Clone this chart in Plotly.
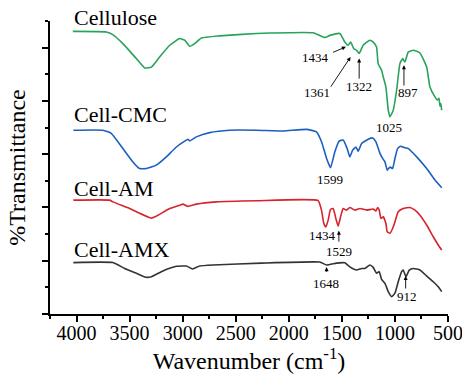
import plotly.graph_objects as go

# ---- data (wavenumber cm^-1, offset %Transmittance) ----
cellulose_wn = [4035, 3720, 3658, 3563, 3437, 3358, 3295, 3217, 3122, 3028, 2981, 2934, 2887, 2824,
                2651, 2305, 2179, 1771, 1660, 1613, 1519, 1472, 1441, 1418, 1387, 1361, 1337, 1299,
                1236, 1205, 1173, 1158, 1126, 1110, 1085, 1063, 1047, 1016, 984, 953, 927, 906, 874,
                827, 764, 701, 670, 623, 600, 585, 575, 567, 560]
cellulose_t = [106.1, 105.9, 104.9, 101.5, 95.9, 92.4, 92.7, 96.5, 100.9, 103.4, 102.8, 100.5, 101.5, 103.6,
               104.4, 105.3, 105.5, 105.6, 103.8, 104.6, 105.3, 102.1, 100.9, 102.1, 99.6, 99.0, 97.8, 100.9,
               102.8, 102.1, 100.2, 94.0, 91.5, 89.0, 85.2, 76.5, 74.0, 76.5, 84.0, 94.0, 95.9, 94.6, 98.4,
               99.0, 98.0, 92.7, 85.2, 81.5, 80.3, 81.0, 78.0, 79.0, 76.5]

cmc_wn = [4030, 3752, 3673, 3563, 3469, 3406, 3342, 3248, 3154, 3059, 2981, 2950, 2934, 2871, 2745,
          2557, 2305, 2054, 1833, 1739, 1691, 1644, 1607, 1566, 1526, 1488, 1450, 1425, 1399, 1368,
          1346, 1314, 1252, 1210, 1179, 1141, 1116, 1094, 1073, 1047, 1022, 1000, 975, 946, 915, 874,
          795, 701, 623, 559]
cmc_t = [69.0, 69.0, 67.8, 62.1, 57.1, 54.6, 54.6, 55.9, 59.0, 62.7, 64.9, 65.6, 65.0, 66.5, 68.1,
         69.0, 69.0, 68.7, 69.3, 68.4, 64.6, 58.4, 54.9, 60.9, 64.9, 65.3, 62.1, 59.0, 61.5, 62.7,
         61.1, 64.0, 65.6, 66.1, 64.6, 60.3, 58.4, 57.1, 54.0, 55.2, 54.6, 58.4, 62.1, 63.0, 62.5, 62.1,
         59.0, 54.6, 50.3, 47.4]

am_wn = [4030, 3689, 3658, 3500, 3295, 3248, 3122, 3028, 2997, 2950, 2871, 2682, 2305, 1724,
         1692, 1670, 1651, 1629, 1607, 1582, 1557, 1535, 1512, 1488, 1456, 1425, 1377, 1330, 1267,
         1205, 1179, 1163, 1148, 1132, 1110, 1085, 1073, 1047, 1022, 1000, 969, 922, 858, 811, 764,
         701, 639, 592, 559]
am_t = [42.75, 42.75, 42.1, 39.6, 36.0, 36.75, 39.6, 40.8, 41.25, 40.4, 41.25, 42.1, 42.5, 42.6,
        39.0, 34.0, 32.7, 35.25, 39.3, 39.6, 35.9, 33.0, 36.5, 39.6, 39.0, 40.0, 39.0, 39.6, 39.0,
        39.4, 38.7, 40.0, 39.0, 35.9, 36.5, 34.0, 30.9, 30.3, 32.1, 34.6, 38.4, 39.6, 40.0, 39.0, 37.1,
        33.4, 29.0, 25.9, 24.0]

amx_wn = [4030, 3658, 3547, 3437, 3349, 3295, 3201, 3059, 2965, 2908, 2840, 2714, 2258, 1708,
          1644, 1550, 1472, 1425, 1361, 1314, 1283, 1236, 1205, 1173, 1148, 1126, 1094, 1063, 1031,
          1000, 969, 937, 922, 896, 865, 827, 764, 701, 639, 592, 559]
amx_t = [19.3, 19.3, 17.1, 15.3, 13.8, 14.0, 15.9, 17.9, 18.0, 16.9, 18.0, 18.4, 19.1, 19.5,
         18.4, 19.1, 19.2, 17.7, 16.5, 17.1, 17.1, 18.4, 17.5, 15.3, 15.9, 13.0, 11.5, 8.4, 6.5,
         7.8, 12.1, 15.9, 16.5, 14.0, 16.5, 17.1, 16.5, 14.25, 12.1, 10.2, 8.4]

series_names = ["Cellulose", "Cell-CMC", "Cell-AM", "Cell-AMX"]
series_colors = ["#27a35a", "#1c5fc0", "#d8232c", "#333333"]
series_label_y = [111.3, 74.8, 47.0, 24.4]
Y_MAX = 110

# peak labels: text, x, y
peak_text = ["1434", "1361", "1322", "897", "1025", "1599", "1434", "1529", "1648", "912"]
peak_x = [1750, 1731, 1340, 877, 1057, 1608, 1679, 1528, 1651, 882]
peak_y = [96.2, 83.1, 85.5, 83.1, 69.9, 50.6, 29.6, 23.4, 11.4, 6.4]

# arrows: head (x,y) and tail (x,y)
arrow_head_x = [1462, 1418, 1337, 915, 1528, 1644, 899]
arrow_head_y = [100.3, 96.5, 95.9, 93.4, 31.3, 17.6, 14.3]
arrow_tail_x = [1597, 1613, 1337, 915, 1528, 1644, 899]
arrow_tail_y = [98.0, 84.8, 87.8, 85.2, 26.6, 15.3, 9.0]

xs = [cellulose_wn, cmc_wn, am_wn, amx_wn]
ys = [cellulose_t, cmc_t, am_t, amx_t]

SERIF = "Liberation Serif, Times New Roman, serif"

fig = go.Figure()
for name, x, y, c in zip(series_names, xs, ys, series_colors):
    fig.add_trace(go.Scatter(x=x, y=y, mode="lines", name=name,
                             line=dict(color=c, width=1.6, shape="spline", smoothing=0.4)))

annotations = []
for name, ly in zip(series_names, series_label_y):
    annotations.append(dict(x=4040, y=ly / Y_MAX, xref="x", yref="paper", text=name, showarrow=False,
                            xanchor="left", yanchor="middle",
                            font=dict(family=SERIF, size=22, color="black")))
for t, px, py in zip(peak_text, peak_x, peak_y):
    annotations.append(dict(x=px, y=py, xref="x", yref="y", text=t, showarrow=False,
                            xanchor="center", yanchor="middle",
                            font=dict(family=SERIF, size=13, color="black")))
for hx, hy, tx, ty in zip(arrow_head_x, arrow_head_y, arrow_tail_x, arrow_tail_y):
    annotations.append(dict(x=hx, y=hy, ax=tx, ay=ty, xref="x", yref="y", axref="x", ayref="y",
                            text="", showarrow=True, arrowhead=2, arrowsize=0.9,
                            arrowwidth=0.9, arrowcolor="black", standoff=0, startstandoff=0))

fig.update_layout(
    width=462, height=374,
    margin=dict(l=50, r=14, t=21, b=60),
    paper_bgcolor="white", plot_bgcolor="white",
    showlegend=False,
    annotations=annotations,
    font=dict(family=SERIF, color="black"),
    xaxis=dict(range=[4250, 500], autorange=False,
               tickmode="linear", tick0=500, dtick=500,
               ticks="outside", ticklen=6, tickwidth=1.5, tickcolor="black",
               minor=dict(tickmode="linear", tick0=250, dtick=250, ticks="outside",
                          ticklen=3, tickwidth=1.5, tickcolor="black"),
               showline=True, linecolor="black", linewidth=2, mirror=False,
               showgrid=False, zeroline=False,
               ticklabelstandoff=-6, ticklabeloverflow="allow",
               tickfont=dict(family=SERIF, size=20, color="black"),
               title=dict(text="Wavenumber (cm<sup>-1</sup>)", standoff=2,
                          font=dict(family=SERIF, size=24, color="black")),
               automargin=False),
    yaxis=dict(range=[0, Y_MAX], autorange=False,
               tickmode="linear", tick0=0, dtick=20,
               ticks="outside", ticklen=6, tickwidth=1.5, tickcolor="black",
               minor=dict(tickmode="linear", tick0=0, dtick=10, ticks="outside",
                          ticklen=3, tickwidth=1.5, tickcolor="black"),
               showticklabels=False,
               showline=True, linecolor="black", linewidth=2, mirror=False,
               showgrid=False, zeroline=False,
               title=dict(text="%Transmittance", standoff=10,
                          font=dict(family=SERIF, size=24, color="black")),
               automargin=False),
)

fig.write_html("out.html", config={"displayModeBar": False},
               post_script="document.body.style.margin='0px';")
